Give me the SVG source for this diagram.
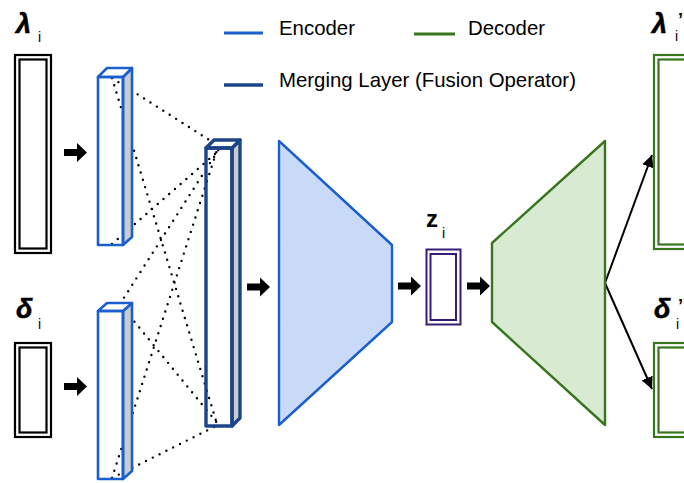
<svg xmlns="http://www.w3.org/2000/svg" xmlns:xlink="http://www.w3.org/1999/xlink" width="684" height="483" viewBox="0 0 684 483">
  <style>
    .lbl { font-family: "Liberation Sans", Arial, sans-serif; font-size: 20.4px; fill: #000; }
    .sym { font-family: "Liberation Sans", Arial, sans-serif; font-size: 27px; font-weight: bold; font-style: italic; fill: #000; stroke: #000; stroke-width: 0.6; }
    .apo { font-family: "Liberation Sans", Arial, sans-serif; font-size: 18px; font-weight: bold; fill: #000; }
    .sub { font-family: "Liberation Sans", Arial, sans-serif; font-size: 14px; fill: #000; }
    .box-in { fill: none; stroke: #000; stroke-width: 2.2; }
    .box-out { fill: none; stroke: #38761d; stroke-width: 2.2; }
    .enc { stroke: #1a5fd0; stroke-width: 2.6; stroke-linejoin: round; }
    .mrg { stroke: #1c4587; stroke-width: 3.4; stroke-linejoin: round; }
    .face { fill: #fff; }
    .side { fill: #cccccc; }
    .dots { fill: none; stroke: #000; stroke-width: 2.4; stroke-linecap: round; stroke-dasharray: 0 7.6; }
    .link { fill: none; stroke: #000; stroke-width: 2; }
  </style>
  <defs>
    <!-- block arrow, tip at (23,0) -->
    <path id="blk" d="M0,-3.6 H13 V-9.6 L23,0 L13,9.6 V3.6 H0 Z" fill="#000"/>
    <marker id="head" viewBox="0 0 10 10" refX="10" refY="5" markerWidth="6" markerHeight="6" markerUnits="strokeWidth" orient="auto">
      <path d="M0,0 L10,5 L0,10 Z" fill="#000"/>
    </marker>
  </defs>

  <rect width="684" height="483" fill="#fff"/>

  <!-- legend -->
  <g id="legend">
    <line x1="224" y1="33" x2="263" y2="33" stroke="#1a5fd0" stroke-width="3.2"/>
    <text class="lbl" x="279" y="35">Encoder</text>
    <line x1="414" y1="34" x2="455" y2="34" stroke="#38761d" stroke-width="3.2"/>
    <text class="lbl" x="468" y="35">Decoder</text>
    <line x1="224" y1="85" x2="263" y2="85" stroke="#1c4587" stroke-width="3.6"/>
    <text class="lbl" x="279" y="87">Merging Layer (Fusion Operator)</text>
  </g>

  <!-- input lambda -->
  <g id="input-lambda">
    <text class="sym" x="16" y="33">λ</text>
    <text class="sub" x="38" y="42">i</text>
    <rect class="box-in" x="15" y="55" width="36" height="198"/>
    <rect class="box-in" x="19.5" y="59.5" width="27" height="189"/>
  </g>

  <!-- input delta -->
  <g id="input-delta">
    <text class="sym" x="16" y="318">δ</text>
    <text class="sub" x="38" y="329">i</text>
    <rect class="box-in" x="15" y="343" width="36" height="94"/>
    <rect class="box-in" x="19.5" y="347.5" width="27" height="85"/>
  </g>

  <!-- connectors -->
  <g id="connectors">
    <use xlink:href="#blk" x="64" y="152.5"/>
    <use xlink:href="#blk" x="64" y="386.5"/>
    <use xlink:href="#blk" x="247" y="287"/>
    <use xlink:href="#blk" x="398" y="286"/>
    <use xlink:href="#blk" x="467" y="286"/>

    <!-- dense connections into the merging layer -->
    <path class="dots" d="M112,78 L217,424"/>
    <path class="dots" d="M112,78 L214,143"/>
    <path class="dots" d="M112,244 L224,146"/>
    <path class="dots" d="M120,304 L219,149"/>
    <path class="dots" d="M120,304 L218,424"/>
    <path class="dots" d="M112,478 L217,150"/>
    <path class="dots" d="M112,478 L216,426"/>

    <line class="link" x1="605" y1="283" x2="652" y2="155" marker-end="url(#head)"/>
    <line class="link" x1="605" y1="283" x2="652" y2="389" marker-end="url(#head)"/>
  </g>

  <!-- encoder column, lambda branch -->
  <g id="enc-lambda" class="enc">
    <polygon class="side" points="123,77 132,68 132,237 123,245"/>
    <polygon class="face" points="98,77 107,68 132,68 123,77"/>
    <rect x="98" y="77" width="25" height="168" fill="none"/>
  </g>

  <!-- encoder column, delta branch -->
  <g id="enc-delta" class="enc">
    <polygon class="side" points="123,311 132,303 132,471 123,479"/>
    <polygon class="face" points="98,311 107,303 132,303 123,311"/>
    <rect x="98" y="311" width="25" height="168" fill="none"/>
  </g>

  <!-- merging layer -->
  <g id="merging" class="mrg">
    <polygon class="side" points="232,148 240,140 240,418 232,426"/>
    <polygon class="face" points="206,148 214,140 240,140 232,148"/>
    <rect x="206" y="148" width="26" height="278" fill="none"/>
  </g>

  <!-- encoder -->
  <g id="encoder">
    <polygon points="279,141 392,245 392,322 279,425" fill="#c9daf8" stroke="#1a5fd0" stroke-width="2.4" stroke-linejoin="round"/>
  </g>

  <!-- latent z -->
  <g id="latent">
    <text x="426" y="227" font-family="Liberation Sans, Arial, sans-serif" font-size="24" font-weight="bold">z</text>
    <text class="sub" x="442" y="238">i</text>
    <rect x="426.5" y="249.5" width="34" height="75" fill="none" stroke="#351c75" stroke-width="2"/>
    <rect x="430.5" y="254" width="25.5" height="66" fill="none" stroke="#351c75" stroke-width="2"/>
  </g>

  <!-- decoder -->
  <g id="decoder">
    <polygon points="605,141 492,243 492,322 605,425" fill="#d9ead3" stroke="#38761d" stroke-width="2.4" stroke-linejoin="round"/>
  </g>

  <!-- output lambda' -->
  <g id="output-lambda">
    <text class="sym" x="652" y="33">λ</text>
    <text class="sub" x="675" y="41">i</text>
    <text class="apo" x="678" y="26">’</text>
    <rect class="box-out" x="654" y="55" width="60" height="194"/>
    <rect class="box-out" x="658.5" y="59.5" width="60" height="185"/>
  </g>

  <!-- output delta' -->
  <g id="output-delta">
    <text class="sym" x="654" y="318">δ</text>
    <text class="sub" x="676" y="329">i</text>
    <text class="apo" x="678" y="312">’</text>
    <rect class="box-out" x="654" y="343" width="60" height="94"/>
    <rect class="box-out" x="658.5" y="347.5" width="60" height="85"/>
  </g>
</svg>
